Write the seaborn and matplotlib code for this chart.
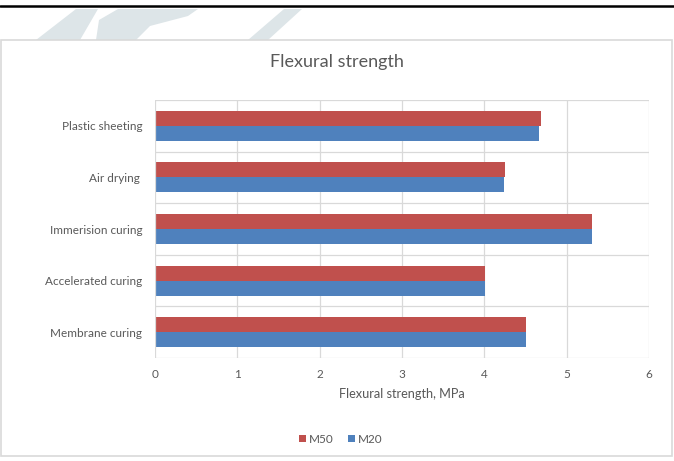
import matplotlib
matplotlib.use("Agg")
import matplotlib.pyplot as plt
import matplotlib.patches as mpatches
from matplotlib.lines import Line2D
import seaborn as sns
import pandas as pd

categories = ["Plastic sheeting", "Air drying ", "Immerision curing", "Accelerated curing", "Membrane curing"]
m50 = [4.69, 4.25, 5.31, 4.01, 4.50]
m20 = [4.67, 4.24, 5.31, 4.01, 4.50]
series = ["M50", "M20"]
colors = ["#C0504D", "#4F81BD"]
xticks = [0, 1, 2, 3, 4, 5, 6]

df = pd.DataFrame({
    "Curing": categories * 2,
    "Strength": m50 + m20,
    "Series": ["M50"] * len(categories) + ["M20"] * len(categories),
})

sns.set_theme(style="white")
plt.rcParams["font.family"] = ["Lato", "DejaVu Sans"]

W, H = 674, 461
fig = plt.figure(figsize=(W / 100, H / 100), dpi=100)
fig.patch.set_facecolor("white")

def fp(x, y):
    return (x / W, 1 - y / H)

# watermark shapes (behind chart box)
wm = "#dde5e8"
shapes = [
    [(36, 40), (76, 9), (98, 9), (80, 40)],
    [(96, 40), (99, 20), (118, 9), (198, 9), (188, 16), (150, 26), (136, 40)],
    [(248, 40), (284, 9), (302, 9), (268, 40)],
]
for s in shapes:
    fig.patches.append(mpatches.Polygon([fp(*p) for p in s], closed=True,
                                        transform=fig.transFigure, facecolor=wm,
                                        edgecolor="none", zorder=-3))

# chart box
x0, y0 = fp(1, 456)
x1, y1 = fp(672, 40)
fig.patches.append(mpatches.Rectangle((x0, y0), x1 - x0, y1 - y0, transform=fig.transFigure,
                                      facecolor="white", edgecolor="#d9d9d9", lw=1.2, zorder=-2))
# top black line
fig.lines.append(Line2D([0, 1], [1 - 6.5 / H] * 2, transform=fig.transFigure,
                        color="black", lw=1.8, zorder=-1))

l, r = 155 / W, 649 / W
b, t = 1 - 358 / H, 1 - 100 / H
ax = fig.add_axes([l, b, r - l, t - b])
ax.set_facecolor("none")

sns.barplot(data=df, y="Curing", x="Strength", hue="Series", order=categories,
            hue_order=series, palette=colors, orient="h", width=0.58,
            errorbar=None, ax=ax, legend=False, saturation=1, zorder=3,
            edgecolor="none", linewidth=0)

ax.set_xlim(0, 6)
ax.set_ylim(len(categories) - 0.5, -0.5)
ax.set_xticks(xticks)
ax.set_xticklabels([str(v) for v in xticks])
for xv in xticks[1:]:
    ax.axvline(xv, color="#d9d9d9", lw=0.9, zorder=1)
for k in range(len(categories) + 1):
    ax.axhline(k - 0.5, color="#d9d9d9", lw=0.9, zorder=1)
ax.axvline(0, color="#d9d9d9", lw=0.9, zorder=4)

for sp in ax.spines.values():
    sp.set_visible(False)

txt = "#595959"
ax.tick_params(axis="y", length=0, pad=9, labelsize=8.5, labelcolor=txt)
ax.tick_params(axis="x", length=0, pad=8, labelsize=8.5, labelcolor=txt)
ax.set_ylabel("")
ax.set_xlabel("Flexural strength, MPa", fontsize=9.2, color=txt, labelpad=6)

fig.text(0.5, 1 - 62 / H, "Flexural strength", ha="center", va="center",
         fontsize=13, color=txt)

handles = [mpatches.Patch(facecolor=c, edgecolor="none", label=s) for s, c in zip(series, colors)]
leg = fig.legend(handles=handles, loc="center", bbox_to_anchor=(341 / W, 1 - 439 / H), ncol=2,
                 frameon=False, fontsize=8.5, handlelength=0.55, handleheight=0.55,
                 handletextpad=0.3, columnspacing=1.2, labelcolor=txt)

fig.savefig("out.png", dpi=100, facecolor="white")
